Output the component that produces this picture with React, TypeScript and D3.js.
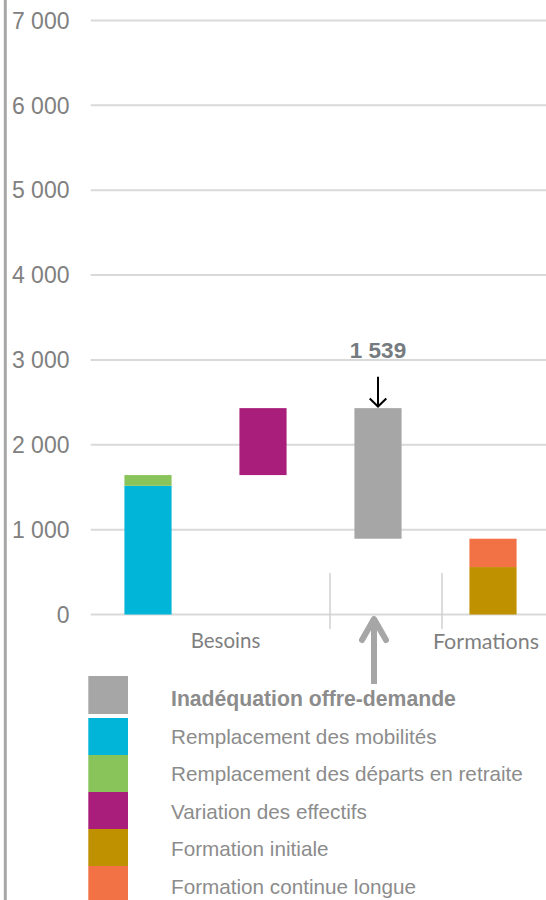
import React from "react";
import * as d3 from "d3";

// ---- data ----
const categories = ["Besoins-1", "Besoins-2", "Ecart", "Formations"];
const besoinsSeries = ["Remplacement des mobilités", "Remplacement des départs en retraite", "Variation des effectifs"];
const besoinsValues = [1517, 126, 789];
const formationSeries = ["Formation initiale", "Formation continue longue"];
const formationValues = [559, 334];
const gapSeries = "Inadéquation offre-demande";
const yTicks = [0, 1000, 2000, 3000, 4000, 5000, 6000, 7000];
const groupLabels = ["Besoins", "Formations"];
const legendItems = [
  "Inadéquation offre-demande",
  "Remplacement des mobilités",
  "Remplacement des départs en retraite",
  "Variation des effectifs",
  "Formation initiale",
  "Formation continue longue",
];

const colors: Record<string, string> = {
  "Inadéquation offre-demande": "#a6a6a6",
  "Remplacement des mobilités": "#00b5d8",
  "Remplacement des départs en retraite": "#88c45a",
  "Variation des effectifs": "#a91e7b",
  "Formation initiale": "#bf9000",
  "Formation continue longue": "#f27145",
};

const W = 546;
const H = 900;

const fmt = (v: number) => d3.format(",")(v).replace(/,/g, " ");

export default function App() {
  const y = d3.scaleLinear().domain([0, 7000]).range([614.5, 20.5]);
  const x = d3
    .scaleBand<string>()
    .domain(categories)
    .range([90.5, 550.5])
    .paddingInner(0.59)
    .paddingOuter(0.295);

  const besoinsTotal = d3.sum(besoinsValues);
  const formationTotal = d3.sum(formationValues);
  const gap = besoinsTotal - formationTotal;

  type Seg = { cat: string; name: string; y0: number; y1: number };
  const segs: Seg[] = [];
  segs.push({ cat: categories[0], name: besoinsSeries[0], y0: 0, y1: besoinsValues[0] });
  segs.push({
    cat: categories[0],
    name: besoinsSeries[1],
    y0: besoinsValues[0],
    y1: besoinsValues[0] + besoinsValues[1],
  });
  segs.push({
    cat: categories[1],
    name: besoinsSeries[2],
    y0: besoinsValues[0] + besoinsValues[1],
    y1: besoinsTotal,
  });
  segs.push({ cat: categories[2], name: gapSeries, y0: formationTotal, y1: besoinsTotal });
  let acc = 0;
  formationValues.forEach((v, i) => {
    segs.push({ cat: categories[3], name: formationSeries[i], y0: acc, y1: acc + v });
    acc += v;
  });

  const bw = x.bandwidth();
  const gapCx = (x(categories[2]) as number) + bw / 2;
  const arrowX = gapCx - 4;

  return (
    <svg
      width={W}
      height={H}
      style={{ position: "absolute", left: 0, top: 0, background: "#fff" }}
      fontFamily="'Liberation Sans', Arial, sans-serif"
    >
      <line x1={5.3} x2={5.3} y1={0} y2={H} stroke="#a6a6a6" strokeWidth={3} />

      {yTicks.map((t) => (
        <line key={"g" + t} x1={90.7} x2={W} y1={y(t)} y2={y(t)} stroke="#d9d9d9" strokeWidth={2} />
      ))}
      {yTicks.map((t) => (
        <text key={"t" + t} x={69.5} y={y(t) + 8.2} textAnchor="end" fontSize={23} fill="#808080">
          {fmt(t)}
        </text>
      ))}

      {segs.map((s, i) => (
        <rect
          key={i}
          x={x(s.cat)}
          width={bw}
          y={y(s.y1)}
          height={y(s.y0) - y(s.y1)}
          fill={colors[s.name]}
        />
      ))}

      <line x1={330} x2={330} y1={573} y2={629} stroke="#d0d0d0" strokeWidth={1.5} />
      <line x1={442} x2={442} y1={573} y2={629} stroke="#d0d0d0" strokeWidth={1.5} />

      <text x={225.5} y={648.3} textAnchor="middle" fontSize={20.5} fill="#7f7f7f" fontFamily="Lato, sans-serif">
        {groupLabels[0]}
      </text>
      <text x={486} y={649.3} textAnchor="middle" fontSize={21.5} fill="#7f7f7f" fontFamily="Lato, sans-serif">
        {groupLabels[1]}
      </text>

      <text x={gapCx} y={358.3} textAnchor="middle" fontSize={22.5} fontWeight="bold" fill="#767b80">
        {fmt(gap)}
      </text>
      <g stroke="#000" strokeWidth={2} fill="none">
        <line x1={gapCx} x2={gapCx} y1={376.7} y2={406} />
        <polyline points={`${gapCx - 8.3},${398.5} ${gapCx},${406.5} ${gapCx + 8.3},${398.5}`} />
      </g>

      <g stroke="#a6a6a6" strokeWidth={6} fill="none" strokeLinecap="round" strokeLinejoin="round">
        <line x1={arrowX} x2={arrowX} y1={620} y2={684} strokeLinecap="butt" />
        <polyline points={`${arrowX - 12},${640} ${arrowX},${619} ${arrowX + 12},${640}`} />
      </g>

      {legendItems.map((name, i) => {
        const top = i === 0 ? 676 : 718 + (i - 1) * 37;
        const h = i === 0 ? 38 : 37;
        return (
          <g key={name}>
            <rect x={88.3} y={top} width={39.7} height={h} fill={colors[name]} />
            <text
              x={171}
              y={706 + i * 37.6}
              fontSize={i === 0 ? 21.2 : 20.7}
              fontWeight={i === 0 ? "bold" : "normal"}
              fill="#8c8c8c"
            >
              {name}
            </text>
          </g>
        );
      })}
    </svg>
  );
}
